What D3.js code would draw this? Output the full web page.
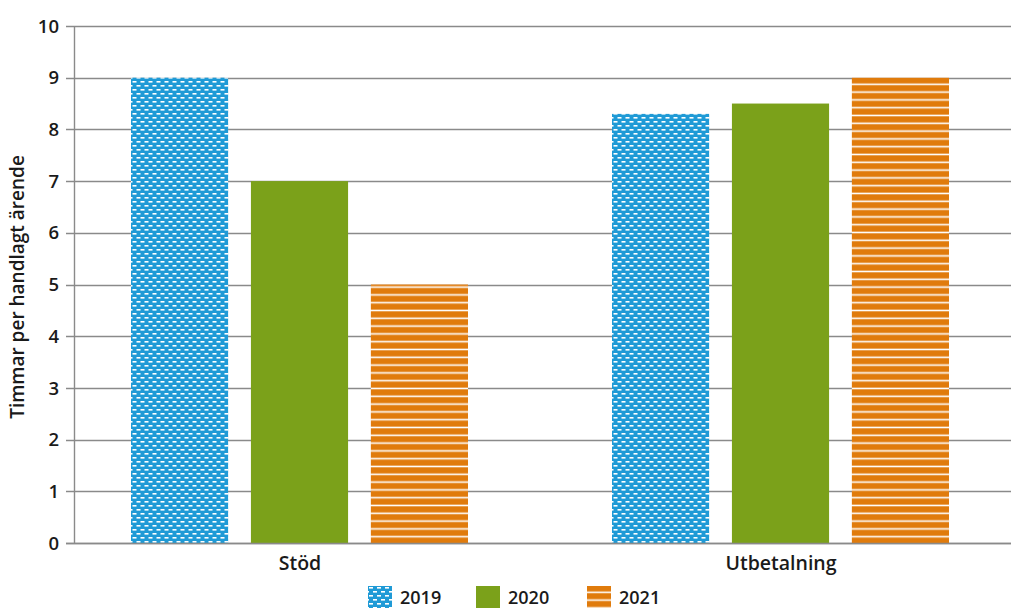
<!DOCTYPE html>
<html>
<head>
<meta charset="utf-8">
<script src="https://cdn.jsdelivr.net/npm/d3@7"></script>
<style>
  body { margin: 0; background: #fff; }
  svg text { font-family: "Open Sans", "DejaVu Sans", sans-serif; font-weight: 600; fill: #1a1a1a; }
</style>
</head>
<body>
<script>
var categories = ["Stöd", "Utbetalning"];
var years = ["2019", "2020", "2021"];
var values2019 = [9, 8.3];
var values2020 = [7, 8.5];
var values2021 = [5, 9];
var yTicks = [0, 1, 2, 3, 4, 5, 6, 7, 8, 9, 10];
var yTitle = "Timmar per handlagt ärende";

var w = 1011, h = 608;
var seriesValues = { "2019": values2019, "2020": values2020, "2021": values2021 };
var fills = { "2019": "url(#pat2019)", "2020": "#7ba11a", "2021": "url(#pat2021)" };

var svg = d3.select("body").append("svg")
    .attr("width", w)
    .attr("height", h);

// patterns
var defs = svg.append("defs");
var p1 = defs.append("pattern")
    .attr("id", "pat2019")
    .attr("patternUnits", "userSpaceOnUse")
    .attr("width", 8).attr("height", 8);
p1.append("rect").attr("width", 8).attr("height", 8).attr("fill", "#1f9ad6");
p1.append("rect").attr("x", 1).attr("y", 1).attr("width", 4).attr("height", 1.6).attr("fill", "#fff");
p1.append("rect").attr("x", 5).attr("y", 5).attr("width", 3).attr("height", 1.6).attr("fill", "#fff");
p1.append("rect").attr("x", 0).attr("y", 5).attr("width", 1).attr("height", 1.6).attr("fill", "#fff");

var p3 = defs.append("pattern")
    .attr("id", "pat2021")
    .attr("patternUnits", "userSpaceOnUse")
    .attr("width", 8).attr("height", 7.8);
p3.append("rect").attr("width", 8).attr("height", 7.8).attr("fill", "#e07b0c");
p3.append("rect").attr("x", 0).attr("y", 5.5).attr("width", 8).attr("height", 1.6).attr("fill", "#fff");

var y = d3.scaleLinear().domain([0, 10]).range([543, 26]);

var x0 = d3.scaleBand().domain(categories).range([59.5, 1021.5]);
var x1 = d3.scaleBand().domain(years).range([71.5, 408.5]).paddingInner(0.19);

// gridlines
svg.append("g")
    .selectAll("line")
    .data(yTicks)
    .enter()
    .append("line")
    .attr("x1", 66)
    .attr("x2", w)
    .attr("y1", function(d) { return Math.round(y(d)) + 0.5; })
    .attr("y2", function(d) { return Math.round(y(d)) + 0.5; })
    .attr("stroke", "#8a8a8a")
    .attr("stroke-width", 1.4);

// bars
var groups = svg.append("g")
    .selectAll("g")
    .data(categories)
    .enter()
    .append("g")
    .attr("transform", function(d) { return "translate(" + x0(d) + ",0)"; });

groups.selectAll("rect")
    .data(function(d, i) {
        return years.map(function(yr) { return { year: yr, value: seriesValues[yr][i] }; });
    })
    .enter()
    .append("rect")
    .attr("x", function(d) { return x1(d.year); })
    .attr("y", function(d) { return y(d.value); })
    .attr("width", x1.bandwidth())
    .attr("height", function(d) { return y(0) - y(d.value); })
    .attr("fill", function(d) { return fills[d.year]; });

// y axis line
svg.append("line")
    .attr("x1", 74.5).attr("x2", 74.5)
    .attr("y1", y(10)).attr("y2", y(0))
    .attr("stroke", "#8a8a8a")
    .attr("stroke-width", 1.4);

// baseline
svg.append("line")
    .attr("x1", 66).attr("x2", w)
    .attr("y1", Math.round(y(0)) + 0.5).attr("y2", Math.round(y(0)) + 0.5)
    .attr("stroke", "#8a8a8a")
    .attr("stroke-width", 1.4);

// y tick labels
svg.append("g")
    .selectAll("text")
    .data(yTicks)
    .enter()
    .append("text")
    .attr("x", 59)
    .attr("y", function(d) { return y(d); })
    .attr("dy", "0.36em")
    .attr("text-anchor", "end")
    .attr("font-size", 18.5)
    .text(function(d) { return d; });

// y title
svg.append("text")
    .attr("transform", "translate(24,287) rotate(-90)")
    .attr("text-anchor", "middle")
    .attr("font-size", 19)
    .text(yTitle);

// category labels
svg.append("g")
    .selectAll("text")
    .data(categories)
    .enter()
    .append("text")
    .attr("x", function(d) { return x0(d) + x0.bandwidth() / 2; })
    .attr("y", 570)
    .attr("text-anchor", "middle")
    .attr("font-size", 19.5)
    .text(function(d) { return d; });

// legend
var legendX = { "2019": 368, "2020": 476, "2021": 587 };
var legend = svg.append("g")
    .selectAll("g")
    .data(years)
    .enter()
    .append("g")
    .attr("transform", function(d) { return "translate(" + legendX[d] + ",586)"; });

legend.append("rect")
    .attr("width", 24)
    .attr("height", 22)
    .attr("fill", function(d) { return fills[d]; });

legend.append("text")
    .attr("x", 32)
    .attr("y", 17.5)
    .attr("font-size", 18)
    .text(function(d) { return d; });
</script>
</body>
</html>
